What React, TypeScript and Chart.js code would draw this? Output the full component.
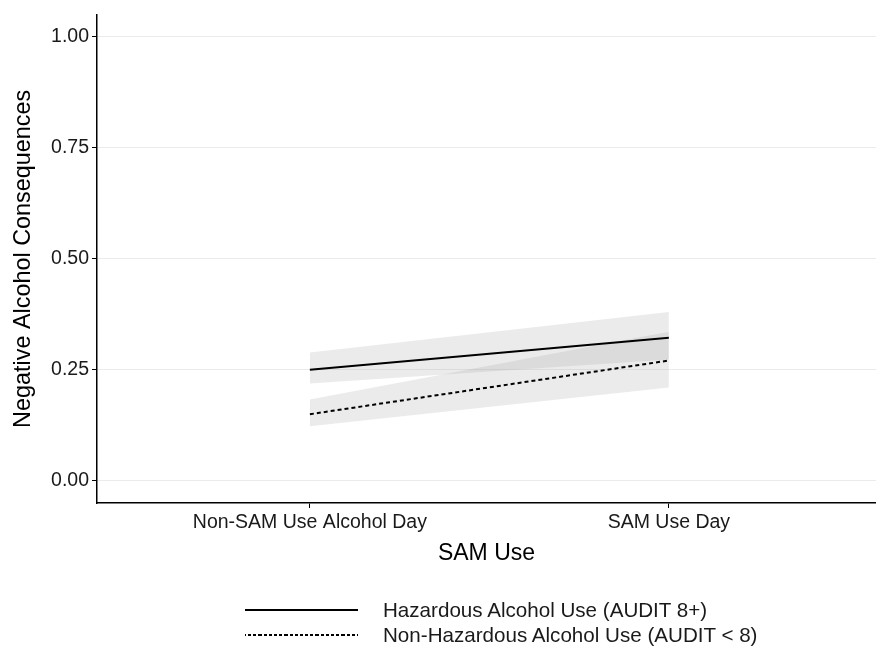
import React, { useEffect, useRef } from "react";
import { Chart, registerables } from "chart.js";

Chart.register(...registerables);

const categories = ["Non-SAM Use Alcohol Day", "SAM Use Day"];
const yTicks = [0, 0.25, 0.5, 0.75, 1.0];

const hazMean = [0.25, 0.322];
const hazLower = [0.219, 0.273];
const hazUpper = [0.289, 0.38];

const nonMean = [0.15, 0.271];
const nonLower = [0.123, 0.21];
const nonUpper = [0.183, 0.336];

const legendLabels = [
  "Hazardous Alcohol Use (AUDIT 8+)",
  "Non-Hazardous Alcohol Use (AUDIT < 8)",
];

const FONT = "'Liberation Sans', Arial, Helvetica, sans-serif";
const BAND = "rgba(153,153,153,0.2)";

const pts = (arr: number[]) => arr.map((y, i) => ({ x: i, y }));

export default function App() {
  const ref = useRef<HTMLCanvasElement | null>(null);

  useEffect(() => {
    document.body.style.margin = "0";
    const ctx = ref.current!.getContext("2d")!;
    const band = (data: number[], fill: any) => ({
      data: pts(data),
      borderColor: "transparent",
      borderWidth: 0,
      backgroundColor: BAND,
      pointRadius: 0,
      fill,
      order: 2,
      tension: 0,
    });
    const chart = new Chart(ctx, {
      type: "line",
      data: {
        datasets: [
          {
            label: legendLabels[0],
            data: pts(hazMean),
            borderColor: "#000",
            borderWidth: 2,
            pointRadius: 0,
            fill: false,
            order: 0,
          },
          {
            label: legendLabels[1],
            data: pts(nonMean),
            borderColor: "#000",
            borderWidth: 2,
            borderDash: [4, 3],
            pointRadius: 0,
            fill: false,
            order: 0,
          },
          { label: "hu", ...band(hazUpper, "+1") },
          { label: "hl", ...band(hazLower, false) },
          { label: "nu", ...band(nonUpper, "+1") },
          { label: "nl", ...band(nonLower, false) },
        ],
      },
      options: {
        animation: false,
        responsive: false,
        events: [],
        layout: { padding: { left: 0, right: 0, top: 12, bottom: 81 } },
        plugins: {
          legend: { display: false },
          tooltip: { enabled: false },
        },
        scales: {
          x: {
            type: "linear",
            min: -0.593,
            max: 1.577,
            afterBuildTicks: (s: any) => {
              s.ticks = categories.map((_, i) => ({ value: i }));
            },
            afterFit: (s: any) => {
              s.height = 66;
            },
            ticks: {
              callback: (v: any) => categories[Math.round(Number(v))] ?? "",
              font: { family: FONT, size: 19.5 },
              color: "#1a1a1a",
              padding: 3,
              maxRotation: 0,
              autoSkip: false,
            },
            grid: {
              display: true,
              drawOnChartArea: false,
              drawTicks: true,
              tickLength: 5,
              tickColor: "#000",
              color: "#000",
            },
            border: { display: true, color: "#000", width: 1.5 },
            title: {
              display: true,
              text: "SAM Use",
              font: { family: FONT, size: 23 },
              color: "#000",
              padding: { top: 0, bottom: 2 },
            },
          },
          y: {
            type: "linear",
            min: -0.05,
            max: 1.05,
            afterBuildTicks: (s: any) => {
              s.ticks = yTicks.map((v) => ({ value: v }));
            },
            afterFit: (s: any) => {
              s.width = 97;
            },
            ticks: {
              callback: (v: any) => Number(v).toFixed(2),
              font: { family: FONT, size: 19.5 },
              color: "#1a1a1a",
              padding: 3,
            },
            grid: {
              color: "#ebebeb",
              lineWidth: 1,
              tickLength: 5,
              tickColor: "#000",
            },
            border: { display: true, color: "#000", width: 1.5 },
            title: {
              display: true,
              text: "Negative Alcohol Consequences",
              font: { family: FONT, size: 23.4 },
              color: "#000",
              padding: { top: 10, bottom: 0 },
            },
          },
        },
      },
    });
    return () => chart.destroy();
  }, []);

  const legendRow = (label: string, dashed: boolean, top: number) => (
    <div
      key={label}
      style={{
        position: "absolute",
        left: 245,
        top: top - 14,
        height: 28,
        display: "flex",
        alignItems: "center",
      }}
    >
      <div
        style={{
          width: 113,
          height: 0,
          borderTop: dashed ? "2px dashed #000" : "2px solid #000",
          borderImage: dashed
            ? "repeating-linear-gradient(to right, #000 0 3px, transparent 3px 5px) 2"
            : undefined,
        }}
      />
      <span
        style={{
          marginLeft: 25,
          fontFamily: FONT,
          fontSize: 20.6,
          color: "#1a1a1a",
          whiteSpace: "nowrap",
        }}
      >
        {label}
      </span>
    </div>
  );

  return (
    <div
      style={{
        position: "absolute",
        left: 0,
        top: 0,
        width: 876,
        height: 650,
        background: "#fff",
      }}
    >
      <canvas ref={ref} width={876} height={650} style={{ display: "block" }} />
      {legendRow(legendLabels[0], false, 610)}
      {legendRow(legendLabels[1], true, 635)}
    </div>
  );
}
